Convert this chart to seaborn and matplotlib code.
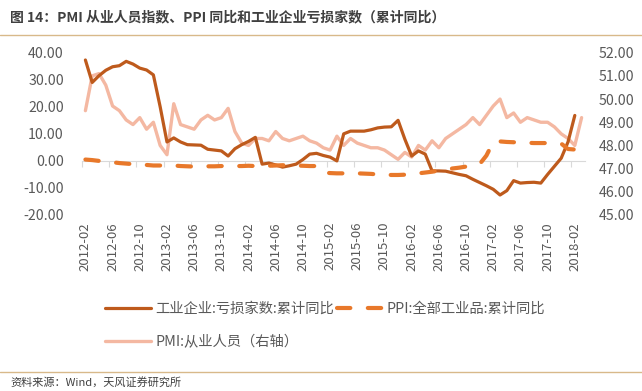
import numpy as np
import pandas as pd
import seaborn as sns
import matplotlib.pyplot as plt
from matplotlib.ticker import FormatStrFormatter

# 2012-02 .. 2018-03, monthly
months = pd.period_range('2012-02', '2018-03', freq='M').strftime('%Y-%m').tolist()

# 工业企业:亏损家数:累计同比 (left axis), ends 2018-02
loss = [37.3, 29.0, 31.5, 33.5, 34.8, 35.2, 36.8, 35.8, 34.3, 33.6,
        31.8, 20.0, 7.0, 8.5, 7.0, 6.0, 5.9, 5.8, 4.3, 4.0,
        3.7, 1.8, 4.5, 6.0, 7.2, 8.7, -1.2, -0.8, -1.5, -2.3,
        -1.8, -1.2, 0.5, 2.5, 2.8, 2.0, 1.4, 0.0, 10.0, 11.0,
        11.0, 11.0, 11.5, 12.2, 12.5, 12.6, 15.0, 8.0, 1.8, 3.7,
        2.5, -3.7, -3.7, -3.8, -4.4, -5.0, -5.5, -6.8, -8.0, -9.2,
        -10.5, -12.6, -11.0, -7.3, -8.2, -8.0, -7.9, -8.2, -5.0, -2.0,
        1.0, 7.0, 16.8, np.nan]

# PPI:全部工业品:累计同比 (left axis), ends 2018-02
ppi = [0.5, 0.3, 0.0, -0.3, -0.5, -0.8, -1.0, -1.2, -1.4, -1.5,
       -1.7, -1.7, -1.7, -1.7, -1.9, -2.0, -2.1, -2.1, -2.0, -2.0,
       -1.9, -1.9, -1.9, -1.9, -1.8, -1.9, -1.9, -1.8, -1.7, -1.6,
       -1.6, -1.7, -1.8, -1.9, -1.9, -4.3, -4.5, -4.6, -4.6, -4.6,
       -4.6, -4.7, -4.8, -5.0, -5.1, -5.2, -5.2, -5.1, -4.9, -4.6,
       -4.3, -4.0, -3.6, -3.2, -2.8, -2.5, -2.1, -1.8, -1.2, 2.0,
       7.0, 7.2, 7.0, 6.9, 6.8, 6.7, 6.6, 6.6, 6.6, 6.5,
       6.4, 4.4, 4.2, np.nan]

# PMI:从业人员 (right axis)
pmi = [49.5, 51.0, 51.1, 50.6, 49.7, 49.5, 49.1, 48.9, 49.2, 48.7,
       49.0, 48.0, 47.6, 49.8, 48.9, 48.8, 48.7, 49.1, 49.3, 49.1,
       49.2, 49.6, 48.6, 48.1, 48.0, 48.3, 48.3, 48.2, 48.6, 48.3,
       48.2, 48.3, 48.4, 48.2, 48.1, 47.9, 47.8, 48.4, 48.0, 48.3,
       48.1, 48.0, 47.9, 47.9, 47.8, 47.6, 47.4, 47.7, 47.5, 48.0,
       47.8, 48.2, 47.9, 48.3, 48.5, 48.7, 48.9, 49.2, 48.9, 49.3,
       49.7, 50.0, 49.2, 49.4, 49.0, 49.2, 49.1, 49.0, 49.0, 48.8,
       48.5, 48.3, 48.0, 49.2]

df = pd.DataFrame({'idx': range(len(months)), 'month': months,
                   'loss': loss, 'ppi': ppi, 'pmi': pmi})

sns.set_style('white')
plt.rcParams['font.family'] = ['Noto Sans CJK SC', 'DejaVu Sans']

fig = plt.figure(figsize=(6.42, 3.91), dpi=100)
ax = fig.add_axes([82 / 642, 1 - 215 / 391, (585 - 82) / 642, (215 - 52.7) / 391])
ax2 = ax.twinx()

c_loss = '#BE5A1C'
c_ppi = '#E8782A'
c_pmi = '#F4B8A2'

sns.lineplot(data=df, x='idx', y='pmi', ax=ax2, color=c_pmi, linewidth=2.4,
             label='PMI:从业人员（右轴）', legend=False)
sns.lineplot(data=df, x='idx', y='loss', ax=ax, color=c_loss, linewidth=2.3,
             label='工业企业:亏损家数:累计同比', legend=False)
sns.lineplot(data=df, x='idx', y='ppi', ax=ax, color=c_ppi, linewidth=3.0,
             linestyle=(0, (3.2, 4.2)), dash_capstyle='round',
             label='PPI:全部工业品:累计同比', legend=False)

ax.set_zorder(ax2.get_zorder() + 1)
ax.patch.set_visible(False)

ax.set_xlim(-0.5, len(months) - 0.5)
ax.set_ylim(-20, 40)
ax.set_yticks(range(-20, 41, 10))
ax.yaxis.set_major_formatter(FormatStrFormatter('%.2f'))
ax2.set_ylim(45, 52)
ax2.set_yticks(range(45, 53))
ax2.yaxis.set_major_formatter(FormatStrFormatter('%.2f'))

lab_pos = list(range(0, len(months), 4))
ax.set_xticks(lab_pos)
ax.set_xticklabels([months[i] for i in lab_pos], rotation=90)
ax.tick_params(axis='x', length=0, pad=5, labelsize=9.5, labelcolor='#595959')
ax.tick_params(axis='y', length=0, pad=13, labelsize=10.2, labelcolor='#595959')
ax2.tick_params(axis='y', length=0, pad=10, labelsize=10.2, labelcolor='#595959')
ax.set_xlabel('')
ax.set_ylabel('')
ax2.set_ylabel('')

for a in (ax, ax2):
    for s in a.spines.values():
        s.set_visible(False)

# category axis line at zero with tick marks between categories
sec = ax.secondary_xaxis(1 / 3)
sec.set_xticks([i - 0.5 for i in lab_pos])
sec.tick_params(axis='x', length=4, width=0.8, color='#D9D9D9', labelbottom=False, labeltop=False)
for s in sec.spines.values():
    s.set_visible(False)
sec.spines['bottom'].set_visible(True)
sec.spines['bottom'].set_color('#D9D9D9')

h1, l1 = ax.get_legend_handles_labels()
h2, l2 = ax2.get_legend_handles_labels()
handles = [h1[0], h2[0], h1[1]]
labels = [l1[0], l2[0], l1[1]]
fig.legend(handles, labels, loc='upper left', bbox_to_anchor=(98 / 642, 1 - 295 / 391),
           ncol=2, frameon=False, fontsize=10.3, handlelength=3.2, handletextpad=0.3,
           columnspacing=0.2, labelspacing=1.3, borderpad=0,
           labelcolor='#595959')

fig.text(10 / 642, 1 - 17 / 391, '图 14：PMI 从业人员指数、PPI 同比和工业企业亏损家数（累计同比）',
         fontsize=10, fontweight='bold', color='#404040', va='center', ha='left')
fig.add_artist(plt.Line2D([0, 1], [1 - 35 / 391, 1 - 35 / 391], color='#D8B98A', linewidth=1))
fig.add_artist(plt.Line2D([0, 1], [1 - 372 / 391, 1 - 372 / 391], color='#D8B98A', linewidth=1))
fig.text(10 / 642, 1 - 382 / 391, '资料来源：Wind，天风证券研究所', fontsize=8,
         color='#404040', va='center', ha='left')

fig.savefig('out.png', dpi=100)
